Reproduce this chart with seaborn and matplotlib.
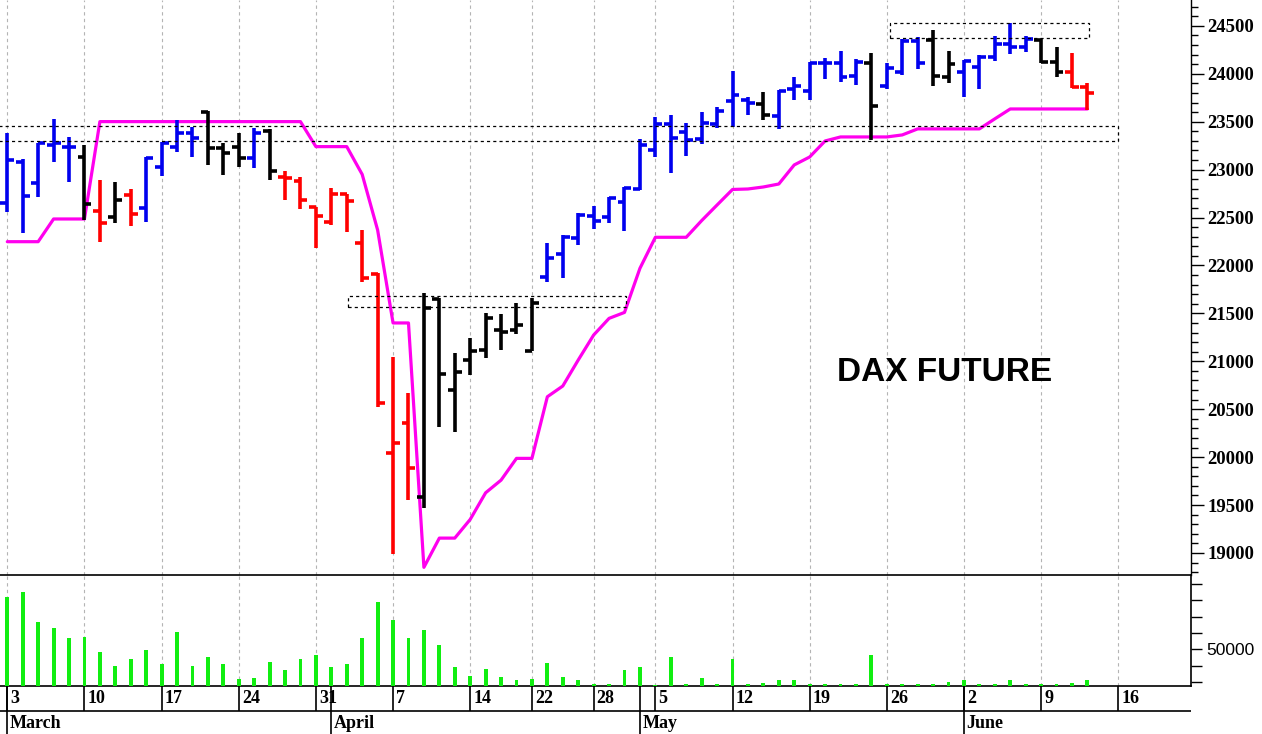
import matplotlib
matplotlib.use("Agg")
import numpy as np
import pandas as pd
import matplotlib.pyplot as plt
from matplotlib.patches import Rectangle
import seaborn as sns

# DAX future daily bars, 3 March - 12 June (trading days only)
dates = [
    "03-03", "03-04", "03-05", "03-06", "03-07", "03-10", "03-11", "03-12", "03-13", "03-14",
    "03-17", "03-18", "03-19", "03-20", "03-21", "03-24", "03-25", "03-26", "03-27", "03-28",
    "03-31", "04-01", "04-02", "04-03", "04-04", "04-07", "04-08", "04-09", "04-10", "04-11",
    "04-14", "04-15", "04-16", "04-17", "04-22", "04-23", "04-24", "04-25", "04-28", "04-29",
    "04-30", "05-02", "05-05", "05-06", "05-07", "05-08", "05-09", "05-12", "05-13", "05-14",
    "05-15", "05-16", "05-19", "05-20", "05-21", "05-22", "05-23", "05-26", "05-27", "05-28",
    "05-29", "05-30", "06-02", "06-03", "06-04", "06-05", "06-06", "06-09", "06-10", "06-11",
    "06-12",
]
trend = [
    "b", "b", "b", "b", "b", "k", "r", "k", "r", "b",
    "b", "b", "b", "k", "k", "k", "b", "k", "r", "r",
    "r", "r", "r", "r", "r", "r", "r", "k", "k", "k",
    "k", "k", "k", "k", "k", "b", "b", "b", "b", "b",
    "b", "b", "b", "b", "b", "b", "b", "b", "b", "k",
    "b", "b", "b", "b", "b", "b", "k", "b", "b", "b",
    "k", "k", "b", "b", "b", "b", "b", "k", "k", "r",
    "r",
]
opens = [
    22648, 23083, 22857, 23257, 23240, 23128, 22572, 22502, 22735, 22596,
    23031, 23240, 23379, 23605, 23222, 23233, 23118, 23407, 22927, 22885,
    22606, 22458, 22746, 22231, 21911, 20038, 20352, 19586, 21646, 20700,
    21013, 21117, 21326, 21326, 21107, 21883, 22119, 22283, 22516, 22502,
    22666, 22794, 23205, 23476, 23396, 23316, 23476, 23720, 23727, 23686,
    23560, 23839, 23825, 24110, 24117, 23978, 24117, 23874, 24023, 24347,
    24354, 23971, 24023, 24075, 24180, 24312, 24277, 24354, 24128, 24023,
    23860,
]
highs = [
    23379, 23108, 23282, 23525, 23337, 23257, 22892, 22874, 22794, 23128,
    23292, 23518, 23449, 23616, 23282, 23386, 23431, 23421, 22989, 22927,
    22613, 22806, 22746, 22371, 21925, 21048, 20672, 21716, 21660, 21089,
    21239, 21500, 21490, 21611, 21657, 22238, 22318, 22544, 22620, 22718,
    22815, 23316, 23553, 23570, 23490, 23605, 23657, 24033, 23755, 23814,
    23832, 23971, 24128, 24162, 24242, 24152, 24215, 24110, 24361, 24389,
    24458, 24242, 24145, 24197, 24396, 24528, 24396, 24361, 24284, 24215,
    23908,
]
lows = [
    22561, 22335, 22711, 23083, 22874, 22474, 22248, 22439, 22412, 22457,
    22934, 23188, 23128, 23048, 22944, 23031, 23014, 22892, 22683, 22586,
    22178, 22423, 22353, 21831, 20519, 18994, 19551, 19464, 20317, 20265,
    20856, 21030, 21117, 21284, 21107, 21830, 21865, 22213, 22377, 22439,
    22363, 22787, 23128, 22968, 23142, 23264, 23431, 23442, 23571, 23519,
    23421, 23727, 23727, 23947, 23919, 23884, 23310, 23839, 23988, 24048,
    23874, 23908, 23755, 23839, 24138, 24208, 24232, 24117, 23971, 23849,
    23623,
]
closes = [
    23101, 22725, 23275, 23282, 23233, 22641, 22439, 22683, 22537, 23118,
    23282, 23379, 23327, 23222, 23170, 23118, 23379, 22986, 22909, 22683,
    22516, 22746, 22677, 21866, 20561, 20143, 19882, 21552, 20867, 20891,
    21110, 21448, 21309, 21378, 21604, 22074, 22293, 22526, 22467, 22700,
    22805, 23257, 23476, 23327, 23309, 23483, 23612, 23779, 23693, 23571,
    23825, 23874, 24117, 24117, 23971, 24128, 23668, 24058, 24347, 24117,
    23978, 24103, 24138, 24180, 24312, 24277, 24361, 24128, 24023, 23860,
    23804,
]
volume = [
    82000, 85400, 66600, 63000, 57000, 57600, 48400, 39800, 44200, 49400,
    40800, 60400, 39800, 45600, 40800, 32000, 32400, 42600, 37200, 44200,
    46600, 39000, 40800, 57000, 79200, 68000, 57000, 62200, 52600, 39000,
    33800, 38200, 33000, 31200, 32000, 41400, 33000, 31200, 28800, 28600,
    37200, 39000, 28400, 45600, 28600, 32400, 28600, 44000, 28600, 29400,
    31200, 31200, 28600, 28600, 28600, 28600, 46600, 28600, 28600, 28600,
    28600, 30200, 31200, 28600, 28600, 31200, 28600, 28600, 28600, 29400,
    31200,
]
# magenta trailing stop
stop = [
    22248, 22248, 22248, 22485, 22485, 22485, 23501, 23501, 23501, 23501,
    23501, 23501, 23501, 23501, 23501, 23501, 23501, 23501, 23501, 23501,
    23240, 23240, 23240, 22950, 22370, 21400, 21400, 18850, 19155, 19155,
    19350, 19628, 19760, 19987, 19987, 20630, 20742, 21013, 21274, 21448,
    21510, 21970, 22294, 22294, 22294, 22468, 22631, 22793, 22798, 22819,
    22850, 23049, 23132, 23299, 23341, 23341, 23341, 23341, 23362, 23425,
    23425, 23425, 23425, 23425, 23530, 23633, 23633, 23633, 23633, 23633,
    23633,
]

# week starts (trading-day index) and month starts
week_idx = [0, 5, 10, 15, 20, 25, 30, 34, 38, 42, 47, 52, 57, 62, 67, 72]
week_labels = ["3", "10", "17", "24", "31", "7", "14", "22", "28", "5", "12", "19", "26", "2", "9", "16"]
month_idx = [0, 21, 41, 62]
month_labels = ["March", "April", "May", "June"]

# dotted zones: (x_start, x_end, low, high) in trading-day index / points
zones = [
    (-2.0, 72.0, 23300, 23460),
    (22.1, 40.1, 21563, 21684),
    (57.2, 70.1, 24372, 24528),
]

COLORS = {"b": "#0000ee", "k": "#000000", "r": "#ff0000"}
MAGENTA = "#ff00ee"
GREEN = "#11ee11"
SERIF_B = dict(family="Liberation Serif", weight="bold")

df = pd.DataFrame({
    "idx": np.arange(len(dates)),
    "open": opens, "high": highs, "low": lows, "close": closes,
    "volume": volume, "stop": stop, "trend": trend,
})

sns.set_style("white")
plt.rcParams["font.family"] = ["DejaVu Sans"]
plt.rcParams["text.color"] = "black"

W, H = 1262, 734
X0, STEP = 7.3, 15.43
x_lim = (-X0 / STEP, (1191 - X0) / STEP)

fig = plt.figure(figsize=(W / 100, H / 100), dpi=100)
ax_price = fig.add_axes([0, (H - 575) / H, 1191 / W, 575 / H])
ax_vol = fig.add_axes([0, (H - 686) / H, 1191 / W, 111 / H])
ax_date = fig.add_axes([0, 0, 1191 / W, 48 / H])

# ---- price panel
for t, grp in df.groupby("trend"):
    c = COLORS[t]
    ax_price.vlines(grp["idx"], grp["low"], grp["high"], color=c, lw=2.6, capstyle="butt", zorder=3)
    ax_price.hlines(grp["open"], grp["idx"] - 0.45, grp["idx"], color=c, lw=2.6, zorder=3)
    ax_price.hlines(grp["close"], grp["idx"], grp["idx"] + 0.45, color=c, lw=2.6, zorder=3)

sns.lineplot(data=df, x="idx", y="stop", color=MAGENTA, lw=2.3, estimator=None, ax=ax_price, zorder=2)

for x0, x1, lo, hi in zones:
    ax_price.add_patch(Rectangle((x0, lo), x1 - x0, hi - lo, fill=False, ec="black",
                                 lw=0.9, ls=(0, (2.5, 2.5)), zorder=4))

ax_price.text(0.793, 0.353, "DAX FUTURE", transform=ax_price.transAxes, ha="center", va="center",
              fontsize=24, fontweight="bold", family="Liberation Sans", color="black")

ax_price.set_xlim(*x_lim)
ax_price.set_ylim(18770, 24770)
ax_price.set_xticks(week_idx)
ax_price.grid(axis="x", color="#b4b4b4", ls=(0, (3, 3)), lw=0.8)
ax_price.grid(axis="y", visible=False)
ax_price.tick_params(axis="x", length=0, labelbottom=False)
ax_price.yaxis.tick_right()
ax_price.set_yticks(np.arange(19000, 24501, 500))
ax_price.set_yticks(np.arange(18800, 24701, 100), minor=True)
ax_price.tick_params(axis="y", which="major", direction="out", length=9, width=1, pad=3, colors="black")
ax_price.tick_params(axis="y", which="minor", direction="out", length=5, width=1, colors="black")
for lab in ax_price.get_yticklabels():
    lab.set_fontproperties(dict(SERIF_B, size=13.5))
ax_price.set_xlabel("")
ax_price.set_ylabel("")
for side in ["left", "top", "bottom"]:
    ax_price.spines[side].set_visible(False)
ax_price.spines["right"].set_color("black")
ax_price.spines["right"].set_linewidth(1)

# ---- volume panel
sns.barplot(data=df, x="idx", y="volume", native_scale=True, width=0.25, color=GREEN,
            saturation=1, errorbar=None, linewidth=0, ax=ax_vol, zorder=3)
ax_vol.set_xlim(*x_lim)
ax_vol.set_ylim(27600, 95600)
ax_vol.set_xticks(week_idx)
ax_vol.grid(axis="x", color="#b4b4b4", ls=(0, (3, 3)), lw=0.8)
ax_vol.grid(axis="y", visible=False)
ax_vol.tick_params(axis="x", length=0, labelbottom=False)
ax_vol.yaxis.tick_right()
ax_vol.set_yticks([50000])
ax_vol.set_yticks(np.arange(30000, 90001, 10000), minor=True)
ax_vol.set_yticklabels(["50000"], family="Liberation Sans", fontsize=12.5)
ax_vol.tick_params(axis="y", which="both", direction="out", length=8, width=1, pad=3, colors="black")
ax_vol.set_xlabel("")
ax_vol.set_ylabel("")
ax_vol.spines["left"].set_visible(False)
for side in ["top", "bottom", "right"]:
    ax_vol.spines[side].set_color("black")
    ax_vol.spines[side].set_linewidth(1.2)

# ---- date rows
ax_date.set_xlim(*x_lim)
ax_date.set_ylim(0, 48)
ax_date.axis("off")
ax_date.axhline(23, color="black", lw=1.2)
ax_date.vlines(week_idx, 23, 48, color="black", lw=1.2)
ax_date.vlines(month_idx, 0, 48, color="black", lw=1.2)
for i, lab in zip(week_idx, week_labels):
    ax_date.text(i + 0.2, 35.5, lab, ha="left", va="center", fontsize=13, color="black", **SERIF_B)
for i, lab in zip(month_idx, month_labels):
    ax_date.text(i + 0.15, 11, lab, ha="left", va="center", fontsize=13, color="black", **SERIF_B)

fig.savefig("out.png", dpi=100)
plt.close(fig)
